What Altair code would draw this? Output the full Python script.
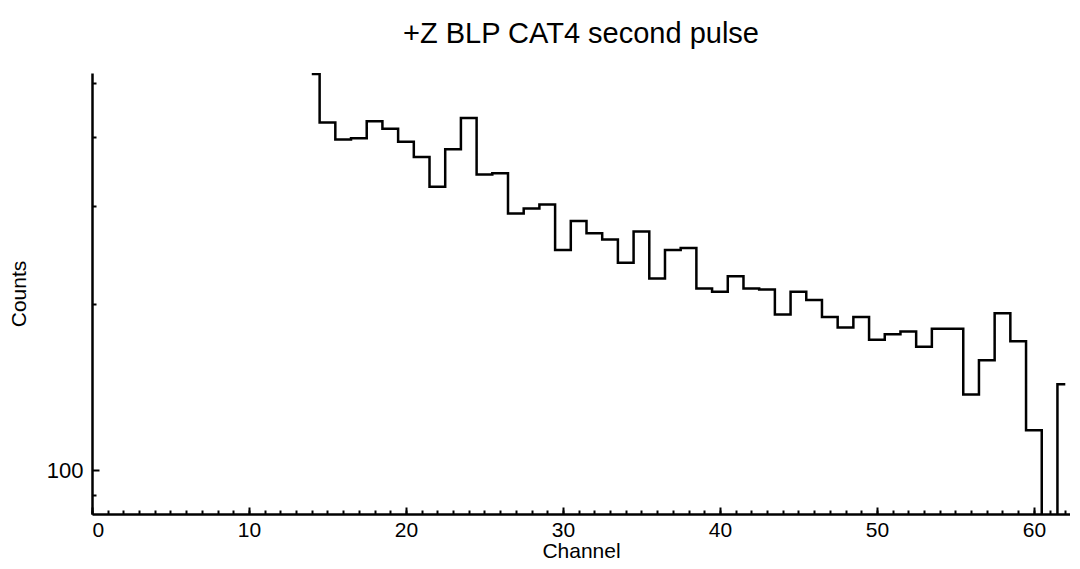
import altair as alt
import pandas as pd

# ---- data ----
channels = list(range(14, 63))
counts = [520, 425, 396, 398, 427, 414, 392, 368, 325, 380,
          433, 342, 344, 291, 297, 302, 250, 282, 268, 261,
          237, 270, 222, 250, 252, 213, 210, 224, 213, 212,
          191, 210, 203, 189, 181, 189, 172, 176, 178, 167,
          180, 180, 137, 158, 192, 171, 118, 1, 143]

x_major = [0, 10, 20, 30, 40, 50, 60]
x_minor = list(range(0, 63))
y_major = [100]
y_minor = [90, 200, 300, 400, 500]

x_domain = [0, 62.3]
y_domain = [83.3, 522]

df = pd.DataFrame({"Channel": channels, "Counts": counts})

FONT = "Liberation Sans"

xs = alt.Scale(domain=x_domain, nice=False, zero=False)
ys = alt.Scale(type="log", domain=y_domain, nice=False)

base = alt.Chart(df)

main = base.mark_line(interpolate="step", color="black", strokeWidth=2.5, clip=True).encode(
    x=alt.X("Channel:Q", scale=xs,
            axis=alt.Axis(orient="bottom", values=x_major, ticks=False, grid=False,
                          domainColor="black", domainWidth=2.5, labelFont=FONT,
                          labelFontSize=21, labelColor="black", labelPadding=5,
                          title="Channel", titleFont=FONT, titleFontSize=21,
                          titleFontWeight="normal", titleColor="black", titlePadding=0)),
    y=alt.Y("Counts:Q", scale=ys,
            axis=alt.Axis(orient="left", values=y_major, ticks=False, grid=False,
                          format="d", domainColor="black", domainWidth=2.5, labelFont=FONT,
                          labelFontSize=22, labelColor="black", labelPadding=9,
                          title="Counts", titleFont=FONT, titleFontSize=21,
                          titleFontWeight="normal", titleColor="black", titlePadding=17)),
)

minor = base.mark_line(interpolate="step", strokeOpacity=0).encode(
    x=alt.X("Channel:Q", scale=xs,
            axis=alt.Axis(orient="bottom", values=x_minor, labels=False, domain=False,
                          grid=False, tickSize=4, tickWidth=2, tickColor="black",
                          offset=-4, title=None)),
    y=alt.Y("Counts:Q", scale=ys,
            axis=alt.Axis(orient="left", values=y_minor, labels=False, domain=False,
                          grid=False, tickSize=4, tickWidth=2, tickColor="black",
                          offset=-4, title=None)),
)

major = base.mark_line(interpolate="step", strokeOpacity=0).encode(
    x=alt.X("Channel:Q", scale=xs,
            axis=alt.Axis(orient="bottom", values=x_major, labels=False, domain=False,
                          grid=False, tickSize=7, tickWidth=2, tickColor="black",
                          offset=-7, title=None)),
    y=alt.Y("Counts:Q", scale=ys,
            axis=alt.Axis(orient="left", values=y_major, labels=False, domain=False,
                          grid=False, tickSize=7, tickWidth=2, tickColor="black",
                          offset=-7, title=None)),
)

chart = alt.layer(main, minor, major).resolve_axis(
    x="independent", y="independent"
).properties(
    width=978,
    height=441,
    padding={"top": 12, "left": 0, "right": 0, "bottom": 0},
    title=alt.TitleParams("+Z BLP CAT4 second pulse", font=FONT, fontSize=29,
                          fontWeight="normal", color="black", anchor="middle", offset=24),
).configure_view(stroke=None)

chart.save("out.html", embed_options={"renderer": "svg", "actions": False})
